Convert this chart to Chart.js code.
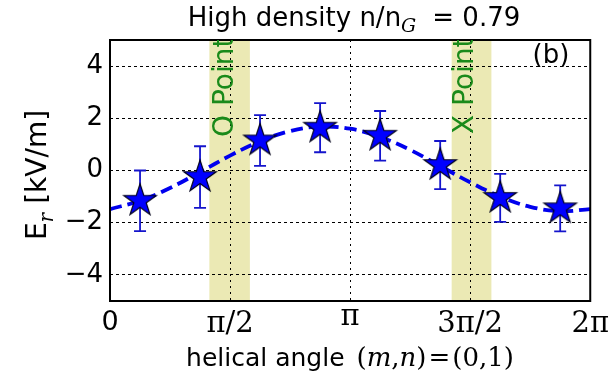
<!DOCTYPE html>
<html><head><meta charset="utf-8">
<script src="https://cdn.jsdelivr.net/npm/chart.js@4.4.1/dist/chart.umd.min.js"></script>
<style>html,body{margin:0;padding:0;background:#fff;}#wrap{width:615px;height:384px;position:relative;}</style>
</head><body><div id="wrap"><canvas id="c"></canvas></div>
<script>
// ---- data ----
const probeAngles = [0.393, 1.178, 1.963, 2.749, 3.534, 4.320, 5.105, 5.890];   // rad
const erValues    = [-1.16, -0.25, 1.15, 1.64, 1.33, 0.21, -1.05, -1.45];       // kV/m
const erErrors    = [1.16, 1.18, 0.97, 0.94, 0.95, 0.92, 0.92, 0.88];
const fitAngles   = [0, 0.393, 0.785, 1.178, 1.571, 1.963, 2.356, 2.749, 3.142, 3.534, 3.927, 4.320, 4.712, 5.105, 5.498, 5.890, 6.283];
const fitValues   = [-1.48, -1.16, -0.67, -0.06, 0.57, 1.12, 1.51, 1.68, 1.60, 1.28, 0.79, 0.17, -0.45, -1.00, -1.39, -1.56, -1.48];
const xTickValues = [0, 1.5708, 3.1416, 4.7124, 6.2832];
const xTickLabels = ['0', 'π/2', 'π', '3π/2', '2π'];
const yTickValues = [-4, -2, 0, 2, 4];
const bandLabels  = ['O Point', 'X Point'];
const bandRanges  = [[1.30, 1.83], [4.47, 4.99]];

const SANS = "'DejaVu Sans', sans-serif";
const SERIF = "'DejaVu Serif', 'Liberation Serif', serif";

function makeStar(R, fill, stroke) {
  const size = Math.round(2 * R + 4);
  const c = document.createElement('canvas');
  c.width = size; c.height = size;
  const g = c.getContext('2d');
  const cx = size / 2, cy = size / 2, r = R * 0.382;
  g.beginPath();
  for (let k = 0; k < 10; k++) {
    const rad = k % 2 ? r : R;
    const a = -Math.PI / 2 + k * Math.PI / 5;
    const px = cx + rad * Math.cos(a), py = cy + rad * Math.sin(a);
    if (k) g.lineTo(px, py); else g.moveTo(px, py);
  }
  g.closePath();
  g.fillStyle = fill; g.fill();
  g.lineWidth = 1.2; g.strokeStyle = stroke; g.stroke();
  return c;
}
const starImg = makeStar(17, '#0000ff', '#00001a');

function drawRich(ctx, parts, x, y, rot) {
  ctx.save();
  ctx.translate(x, y);
  if (rot) ctx.rotate(rot);
  let total = 0;
  parts.forEach(p => { ctx.font = p.font; p.w = ctx.measureText(p.t).width; total += p.w + (p.gap || 0); });
  let cx = -total / 2;
  ctx.textBaseline = 'alphabetic';
  ctx.textAlign = 'left';
  parts.forEach(p => {
    ctx.font = p.font;
    ctx.fillStyle = p.color || '#000';
    ctx.fillText(p.t, cx, p.dy || 0);
    cx += p.w + (p.gap || 0);
  });
  ctx.restore();
}

const bandsPlugin = {
  id: 'bands',
  beforeDraw(chart) {
    const {ctx, chartArea: a, scales: {x}} = chart;
    ctx.save();
    ctx.fillStyle = '#ebe9b4';
    bandRanges.forEach(r => {
      const x0 = x.getPixelForValue(r[0]), x1 = x.getPixelForValue(r[1]);
      ctx.fillRect(x0, a.top, x1 - x0, a.bottom - a.top);
    });
    ctx.restore();
  }
};

const errorPlugin = {
  id: 'errbars',
  beforeDatasetDraw(chart, args) {
    if (args.index !== 0) return;
    const {ctx, scales: {x, y}} = chart;
    ctx.save();
    ctx.strokeStyle = '#1414cc';
    ctx.lineWidth = 1.8;
    probeAngles.forEach((a, i) => {
      const px = x.getPixelForValue(a);
      const yt = y.getPixelForValue(erValues[i] + erErrors[i]);
      const yb = y.getPixelForValue(erValues[i] - erErrors[i]);
      ctx.beginPath();
      ctx.moveTo(px, yt); ctx.lineTo(px, yb);
      ctx.moveTo(px - 6, yt); ctx.lineTo(px + 6, yt);
      ctx.moveTo(px - 6, yb); ctx.lineTo(px + 6, yb);
      ctx.stroke();
    });
    ctx.restore();
  }
};

const textPlugin = {
  id: 'texts',
  afterDraw(chart) {
    const {ctx, chartArea: a} = chart;
    // frame
    ctx.save();
    ctx.strokeStyle = '#000';
    ctx.lineWidth = 2;
    ctx.strokeRect(a.left, a.top, a.right - a.left, a.bottom - a.top);
    ctx.restore();
    // band labels
    ctx.save();
    ctx.beginPath(); ctx.rect(a.left, a.top, a.right - a.left, a.bottom - a.top); ctx.clip();
    ctx.fillStyle = '#1a8a1a';
    ctx.font = '28px ' + SANS;
    ctx.textAlign = 'left'; ctx.textBaseline = 'alphabetic';
    const bx = [233, 473], by = [137, 134];
    bandLabels.forEach((t, i) => {
      ctx.save();
      ctx.translate(bx[i], by[i]);
      ctx.rotate(-Math.PI / 2);
      ctx.fillText(t, 0, 0);
      ctx.restore();
    });
    ctx.restore();
    // (b)
    ctx.save();
    ctx.font = '26px ' + SANS; ctx.fillStyle = '#000'; ctx.textAlign = 'center';
    ctx.fillText('(b)', 551, 63);
    ctx.restore();
    // title
    drawRich(ctx, [
      {t: 'High density n/n', font: '26px ' + SANS},
      {t: 'G', font: 'italic 19px ' + SERIF, dy: 6, gap: 16},
      {t: '= 0.79', font: '26px ' + SANS}
    ], 354, 26, 0);
    // x label
    drawRich(ctx, [
      {t: 'helical angle ', font: '25px ' + SANS, gap: 4},
      {t: '(', font: '26px ' + SERIF},
      {t: 'm', font: 'italic 26px ' + SERIF},
      {t: ',', font: '26px ' + SERIF},
      {t: 'n', font: 'italic 26px ' + SERIF},
      {t: ')', font: '26px ' + SERIF, gap: 2},
      {t: '=', font: '26px ' + SERIF, gap: 2},
      {t: '(0,1)', font: '26px ' + SERIF}
    ], 350, 366, 0);
    // y label
    drawRich(ctx, [
      {t: 'E', font: '28px ' + SANS},
      {t: 'r', font: 'italic 20px ' + SERIF, dy: 7, gap: 9},
      {t: '[kV/m]', font: '28px ' + SANS}
    ], 46, 175, -Math.PI / 2);
  }
};

new Chart(document.getElementById('c'), {
  data: {
    datasets: [
      {
        type: 'scatter',
        label: 'Er',
        data: probeAngles.map((a, i) => ({x: a, y: erValues[i]})),
        pointStyle: starImg,
        pointRadius: 17,
        pointHoverRadius: 17,
        showLine: false
      },
      {
        type: 'line',
        label: 'fit',
        data: fitAngles.map((a, i) => ({x: a, y: fitValues[i]})),
        borderColor: '#0000ee',
        borderWidth: 3.8,
        borderDash: [12, 6],
        pointRadius: 0,
        tension: 0.4,
        fill: false
      }
    ]
  },
  options: {
    responsive: true,
    maintainAspectRatio: false,
    animation: false,
    devicePixelRatio: 1,
    layout: {padding: {top: 40, right: 24, left: 0, bottom: 0}},
    plugins: {legend: {display: false}, tooltip: {enabled: false}, title: {display: false}},
    scales: {
      x: {
        type: 'linear', min: 0, max: 6.2832,
        afterBuildTicks: s => { s.ticks = xTickValues.map(v => ({value: v})); },
        afterFit: s => { s.height = 83; },
        grid: {color: '#000', lineWidth: 1, drawTicks: false},
        border: {display: false, dash: [2, 4]},
        ticks: {
          color: '#000', padding: 6, maxRotation: 0, autoSkip: false,
          callback: (v, i) => xTickLabels[i],
          font: c => c.index === 0 ? {family: SANS, size: 27}
                   : (c.index === 2 ? {family: SERIF, size: 29, lineHeight: 0.75}
                                    : {family: SERIF, size: 29})
        }
      },
      y: {
        type: 'linear', min: -5, max: 5,
        afterBuildTicks: s => { s.ticks = yTickValues.map(v => ({value: v})); },
        afterFit: s => { s.width = 110; },
        grid: {color: '#000', lineWidth: 1, drawTicks: false},
        border: {display: false, dash: [3, 3]},
        ticks: {
          color: '#000', padding: 7,
          callback: v => (v < 0 ? '\u2212' + Math.abs(v) : String(v)),
          font: {family: SANS, size: 26}
        }
      }
    }
  },
  plugins: [bandsPlugin, errorPlugin, textPlugin]
});
</script></body></html>
